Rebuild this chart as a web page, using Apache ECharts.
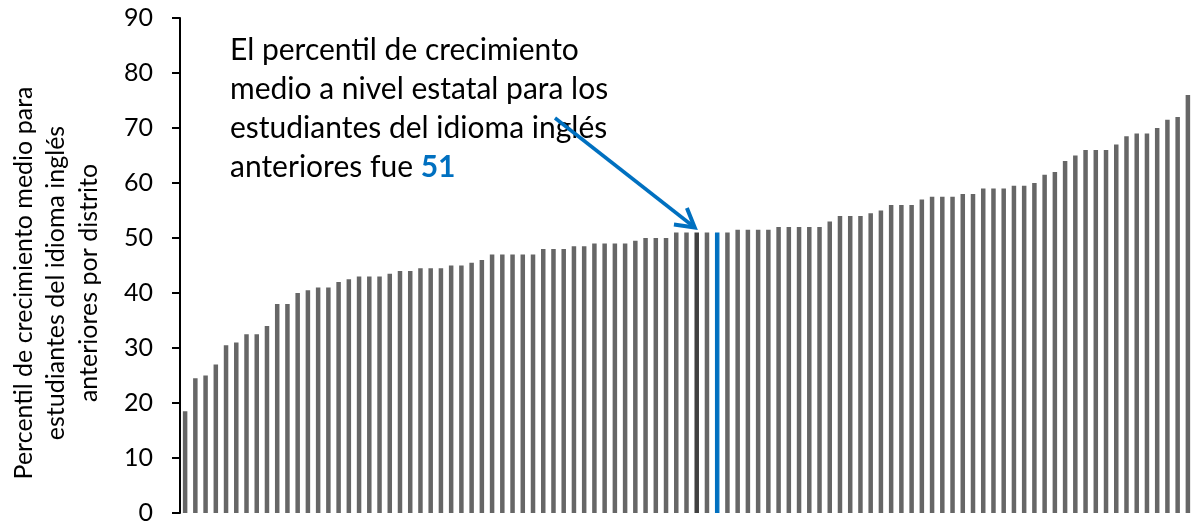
<!DOCTYPE html>
<html>
<head>
<meta charset="utf-8">
<script src="https://cdn.jsdelivr.net/npm/echarts@6/dist/echarts.min.js"></script>
<style>
html,body{margin:0;padding:0;background:#fff;}
#chart{width:1196px;height:527px;}
</style>
</head>
<body>
<div id="chart"></div>
<script>
// District growth percentiles, sorted ascending
const values = [18.5,24.5,25,27,30.5,31,32.5,32.5,34,38,38,40,40.5,41,41,42,42.5,
  43,43,43,43.5,44,44,44.5,44.5,44.5,45,45,45.5,46,47,47,47,47,
  47,48,48,48,48.5,48.5,49,49,49,49,49.5,50,50,50,51,51,
  51,51,51,51,51.5,51.5,51.5,51.5,52,52,52,52,52,53,54,54,54,
  54.5,55,56,56,56,57,57.5,57.5,57.5,58,58,59,59,59,59.5,59.5,60,
  61.5,62,64,65,66,66,66,67,68.5,69,69,70,71.5,72,76];
const categories = values.map((v, i) => 'D' + (i + 1));
const yTicks = [0,10,20,30,40,50,60,70,80,90];
const stateIndex = 52;      // the state-level median bar (51)
const darkIndex = 50;       // darker bar just left of it
const stateValue = 51;
const yAxisTitle = ['Percentil de crecimiento medio para','estudiantes del idioma inglés','anteriores por distrito'];
const noteLines = ['El percentil de crecimiento','medio a nivel estatal para los','estudiantes del idioma inglés','anteriores fue '];

const FONT = 'Lato';
const chart = echarts.init(document.getElementById('chart'), null, {renderer:'canvas'});

const barData = values.map((v, i) => {
  if (i === stateIndex) return {value: v, itemStyle: {color: '#0070C0', borderColor: '#0070C0', borderWidth: 1.2}};
  if (i === darkIndex) return {value: v, itemStyle: {color: '#404040'}};
  return v;
});

chart.setOption({
  animation: false,
  backgroundColor: '#fff',
  grid: {left: 180, right: 3, top: 18, bottom: 14, containLabel: false},
  xAxis: {
    type: 'category', data: categories,
    axisLine: {show: false}, axisTick: {show: false}, axisLabel: {show: false},
    splitLine: {show: false}
  },
  yAxis: {
    type: 'value', min: yTicks[0], max: yTicks[yTicks.length - 1], interval: 10,
    axisLine: {show: true, lineStyle: {color: '#000', width: 2}},
    axisTick: {show: true, length: 8, lineStyle: {color: '#000', width: 2}},
    axisLabel: {fontFamily: FONT, fontSize: 25, color: '#000', margin: 27},
    splitLine: {show: false}
  },
  series: [{
    type: 'bar', data: barData, barWidth: '44%',
    itemStyle: {color: '#666666'}
  }]
});

// annotation + arrow
const tip = chart.convertToPixel({xAxisIndex: 0, yAxisIndex: 0}, [darkIndex, values[darkIndex]]);
const tipX = tip[0] - 2, tipY = tip[1] - 5;
const startX = 555, startY = 118;
const ang = Math.atan2(tipY - startY, tipX - startX);
const L = 21, spread = Math.PI / 6;
const a1 = [tipX - L * Math.cos(ang - spread), tipY - L * Math.sin(ang - spread)];
const a2 = [tipX - L * Math.cos(ang + spread), tipY - L * Math.sin(ang + spread)];

chart.setOption({
  graphic: [
    {
      type: 'text', x: 56, y: 283, rotation: Math.PI / 2,
      style: {
        text: yAxisTitle.join('\n'), fontFamily: FONT, fontSize: 25, lineHeight: 32.5,
        fill: '#000', align: 'center', verticalAlign: 'middle'
      }
    },
    {
      type: 'text', x: 230, y: 31,
      style: {
        text: noteLines.join('\n') + '{b|' + stateValue + '}',
        fontFamily: FONT, fontSize: 30, lineHeight: 39, fill: '#000',
        align: 'left', verticalAlign: 'top',
        rich: {b: {fontFamily: FONT, fontSize: 30, fontWeight: 'bold', fill: '#0070C0', color: '#0070C0', lineHeight: 39}}
      }
    },
    {
      type: 'line', shape: {x1: startX, y1: startY, x2: tipX, y2: tipY},
      style: {stroke: '#0070C0', lineWidth: 3.5}
    },
    {
      type: 'polyline', shape: {points: [a1, [tipX, tipY], a2]},
      style: {stroke: '#0070C0', lineWidth: 4, fill: null, lineJoin: 'miter'}
    }
  ]
});
</script>
</body>
</html>
